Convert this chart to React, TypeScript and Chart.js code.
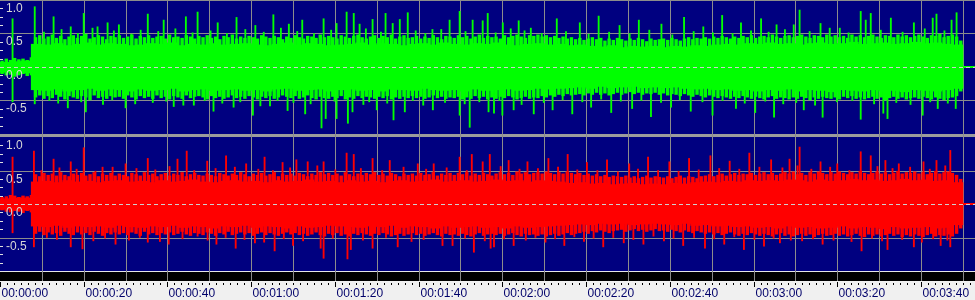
import React, { useEffect, useRef } from 'react';
import { Chart, registerables } from 'chart.js';

Chart.register(...registerables);

// ---- data: amplitudes in hundredths ----
// solid core of each channel, one value per 2.5 s bin (bin i starts at 2.5*i s)
const GREEN_CORE_TOP = [
  7, 8, 9,
  34, 33, 35, 32, 34, 36, 33, 35, 34, 32,
  33, 35, 34, 36, 32, 34, 33, 35, 33, 34,
  35, 33, 32, 34, 36, 33, 35, 34, 32, 33,
  34, 36, 33, 35, 34, 32, 34, 35, 33, 36,
  34, 33, 35, 34, 36, 33, 32, 34, 35, 33,
  34, 32, 33, 31, 30, 32, 29, 31, 30, 31,
  29, 31, 30, 32, 31, 33, 34, 33, 35, 34,
  36, 34, 35, 33, 35, 36, 34, 35, 37, 34,
  35, 36, 34, 35, 37, 35, 36, 34, 33,
  1,
];
const GREEN_CORE_BOTTOM = [
  -8, -9, -9,
  -34, -35, -33, -36, -34, -32, -35, -33, -34, -36,
  -33, -35, -34, -32, -36, -34, -33, -35, -34, -33,
  -35, -34, -36, -33, -32, -35, -34, -33, -36, -34,
  -33, -35, -34, -36, -33, -34, -35, -32, -34, -35,
  -34, -36, -33, -35, -34, -33, -35, -34, -32, -33,
  -32, -31, -30, -32, -29, -31, -30, -29, -31, -30,
  -31, -30, -32, -33, -32, -34, -33, -35, -34, -36,
  -34, -35, -33, -36, -34, -35, -37, -34, -35, -36,
  -34, -36, -35, -37, -34, -35, -36, -34, -32,
  -1,
];
const RED_CORE_TOP = [
  8, 9, 9,
  33, 34, 32, 35, 33, 34, 32, 34, 35, 33,
  34, 32, 35, 33, 34, 36, 33, 32, 34, 35,
  33, 34, 32, 35, 33, 34, 36, 33, 34, 32,
  35, 33, 34, 32, 34, 35, 33, 34, 36, 33,
  34, 35, 33, 34, 36, 34, 35, 33, 35, 34,
  33, 31, 32, 30, 31, 29, 30, 31, 29, 30,
  29, 31, 30, 32, 33, 32, 34, 33, 35, 34,
  35, 34, 36, 35, 33, 36, 34, 35, 37, 35,
  36, 34, 35, 37, 35, 36, 34, 35, 32,
  1,
];
const RED_CORE_BOTTOM = [
  -8, -9, -9,
  -33, -34, -32, -35, -33, -34, -33, -35, -32, -34,
  -35, -33, -34, -32, -35, -33, -34, -36, -33, -34,
  -32, -35, -33, -34, -36, -33, -35, -34, -32, -33,
  -34, -35, -33, -34, -32, -35, -33, -34, -36, -33,
  -35, -34, -33, -35, -34, -36, -33, -35, -34, -33,
  -32, -31, -30, -31, -29, -30, -29, -31, -30, -29,
  -30, -31, -29, -32, -31, -33, -32, -34, -33, -35,
  -34, -36, -33, -35, -34, -36, -35, -33, -36, -34,
  -35, -37, -34, -36, -35, -34, -36, -35, -31,
  -1,
];

// ragged fringe, one value per second (bin i starts at i s)
const GREEN_TOP = [
  9, 12, 10, 13, 11, 12, 10, 14,
  44, 47, 42, 45, 48, 43, 46, 41, 45, 47,
  43, 46, 49, 42, 44, 47, 45, 41, 46, 44,
  47, 43, 45, 48, 42, 46, 44, 47, 43, 45,
  46, 42, 48, 44, 45, 43, 47, 45, 42, 46,
  44, 47, 43, 45, 41, 46, 44, 48, 42, 45,
  43, 46, 44, 42, 47, 45, 43, 46, 44, 41,
  45, 43, 47, 44, 42, 46, 45, 43, 48, 44,
  46, 44, 42, 47, 45, 43, 46, 48, 44, 42,
  45, 47, 43, 46, 44, 48, 42, 45, 47, 43,
  44, 46, 42, 45, 43, 47, 44, 41, 46, 45,
  43, 47, 44, 46, 42, 45, 48, 43, 46, 44,
  45, 42, 47, 44, 46, 48, 45, 43, 47, 46,
  48, 45, 47, 44, 46, 43, 45, 42, 44, 41,
  43, 40, 42, 44, 41, 43, 39, 42, 40, 43,
  41, 39, 42, 40, 43, 41, 38, 42, 40, 41,
  42, 40, 43, 41, 39, 42, 44, 41, 43, 42,
  44, 42, 45, 43, 46, 44, 42, 45, 43, 46,
  44, 47, 43, 45, 46, 44, 48, 45, 43, 46,
  47, 44, 46, 48, 45, 43, 47, 46, 44, 48,
  45, 47, 44, 46, 43, 48, 45, 47, 44, 46,
  48, 45, 43, 47, 46, 44, 48, 45, 47, 44,
  46, 48, 45, 43, 47, 46, 49, 44, 46, 48,
  45, 39, 1, 1, 1,
];
const GREEN_BOTTOM = [
  -10, -12, -11, -14, -12, -10, -13, -12,
  -45, -42, -47, -43, -46, -41, -44, -48, -43, -45,
  -47, -43, -45, -49, -42, -46, -44, -47, -43, -45,
  -44, -47, -42, -45, -48, -43, -46, -44, -47, -42,
  -46, -44, -48, -43, -45, -47, -42, -46, -44, -43,
  -45, -48, -43, -46, -44, -47, -45, -42, -46, -44,
  -47, -43, -45, -48, -44, -46, -43, -47, -45, -42,
  -44, -46, -43, -47, -45, -42, -46, -48, -44, -46,
  -47, -44, -46, -43, -48, -45, -47, -43, -46, -44,
  -45, -47, -44, -46, -43, -48, -45, -47, -44, -46,
  -43, -46, -44, -47, -45, -42, -46, -44, -47, -45,
  -46, -44, -48, -45, -47, -43, -46, -44, -48, -45,
  -47, -44, -46, -43, -45, -48, -46, -44, -47, -45,
  -46, -43, -45, -42, -44, -41, -43, -40, -42, -41,
  -40, -42, -39, -41, -38, -41, -39, -42, -40, -38,
  -41, -39, -37, -40, -38, -41, -39, -40, -38, -41,
  -39, -42, -40, -41, -43, -40, -42, -44, -41, -43,
  -45, -42, -44, -46, -43, -45, -47, -44, -46, -43,
  -45, -47, -44, -46, -48, -45, -43, -47, -45, -46,
  -48, -45, -47, -44, -46, -49, -45, -47, -44, -46,
  -47, -45, -48, -44, -46, -43, -47, -45, -48, -46,
  -44, -47, -45, -49, -46, -44, -47, -45, -48, -46,
  -45, -47, -44, -46, -48, -45, -47, -49, -46, -45,
  -43, -36, -1, -1, -1,
];
const RED_TOP = [
  10, 11, 13, 12, 10, 12, 11, 13,
  44, 41, 46, 43, 45, 42, 47, 43, 41, 45,
  43, 46, 42, 44, 47, 41, 45, 43, 46, 42,
  45, 43, 41, 46, 44, 42, 47, 43, 45, 41,
  44, 46, 42, 45, 43, 47, 41, 44, 46, 43,
  42, 45, 43, 41, 46, 44, 42, 45, 43, 47,
  44, 41, 45, 43, 46, 42, 44, 47, 41, 45,
  43, 45, 42, 46, 44, 41, 45, 43, 47, 44,
  46, 43, 45, 42, 47, 44, 41, 45, 43, 46,
  44, 47, 43, 45, 42, 46, 44, 41, 45, 43,
  45, 42, 46, 43, 44, 47, 42, 45, 43, 46,
  43, 46, 44, 47, 42, 45, 43, 46, 44, 42,
  45, 47, 44, 46, 43, 48, 45, 47, 44, 46,
  47, 45, 48, 46, 44, 47, 45, 48, 46, 44,
  46, 43, 45, 42, 44, 41, 43, 40, 42, 41,
  40, 42, 39, 41, 38, 40, 42, 39, 41, 40,
  39, 41, 38, 40, 42, 39, 41, 40, 38, 41,
  42, 44, 41, 43, 45, 42, 44, 46, 43, 45,
  44, 46, 43, 45, 47, 44, 46, 43, 45, 47,
  45, 48, 44, 46, 43, 47, 45, 48, 46, 44,
  47, 45, 48, 46, 44, 47, 45, 49, 46, 44,
  46, 48, 45, 47, 44, 46, 49, 45, 47, 46,
  48, 45, 47, 44, 46, 49, 45, 47, 48, 46,
  43, 37, 1, 1, 1,
];
const RED_BOTTOM = [
  -9, -11, -12, -10, -11, -13, -10, -12,
  -44, -41, -46, -42, -45, -43, -47, -41, -44, -46,
  -42, -45, -43, -46, -41, -44, -47, -43, -45, -42,
  -45, -43, -46, -42, -44, -47, -41, -45, -43, -46,
  -43, -45, -42, -46, -44, -41, -45, -47, -43, -44,
  -46, -42, -44, -47, -43, -45, -41, -46, -44, -42,
  -45, -43, -47, -44, -42, -46, -43, -45, -47, -44,
  -42, -45, -43, -46, -44, -47, -45, -42, -46, -48,
  -44, -46, -43, -47, -45, -48, -44, -46, -43, -45,
  -47, -44, -46, -43, -45, -48, -46, -44, -47, -45,
  -43, -46, -44, -47, -45, -43, -46, -48, -44, -46,
  -45, -47, -44, -46, -48, -45, -43, -47, -45, -44,
  -46, -44, -47, -45, -43, -46, -48, -44, -46, -45,
  -47, -45, -48, -46, -44, -47, -45, -43, -46, -44,
  -43, -41, -44, -40, -42, -39, -41, -43, -40, -39,
  -38, -41, -39, -37, -40, -38, -41, -39, -37, -40,
  -39, -41, -38, -40, -42, -39, -41, -43, -40, -42,
  -44, -42, -45, -43, -46, -44, -42, -45, -47, -44,
  -46, -43, -45, -47, -44, -46, -48, -45, -43, -47,
  -45, -48, -46, -44, -47, -45, -49, -46, -44, -47,
  -46, -44, -47, -45, -48, -46, -44, -47, -49, -45,
  -47, -45, -48, -46, -44, -47, -45, -49, -46, -48,
  -45, -47, -49, -46, -44, -48, -46, -47, -45, -48,
  -44, -36, -1, -1, -1,
];

// isolated peaks: time (s) and amplitude
const GREEN_PEAK_T = [
  3, 8.3, 12.8, 16.9, 20, 23.3, 25.7, 28.4, 35.3, 39.1, 44.4, 47.2,
  52, 56.5, 61, 65.3, 69, 72.2,
  77.3, 80.4, 82.8, 84.5, 85.9, 89, 92.1, 93.8, 95.5, 97.4, 103.3, 107.4, 109.8, 112.9, 115.3, 116.5, 120.1, 123.9, 126.8,
  133, 138.5, 143, 148, 152.6, 158, 163.4, 168, 172.5, 177, 181.8, 185.5,
  189.6, 191, 196, 200.6, 205.6, 206.8, 208, 212.8, 218.3, 222.8, 223.7, 227.3, 228.5,
  10.5, 14.7, 18.6, 22.1, 27.2, 31.4, 33.6, 37.8, 41.9, 46, 50.3, 54.2, 58.6, 63, 67.1, 71,
  75, 79.1, 87.4, 91, 99.3, 101.6, 105.4, 111.2, 118.4, 122, 125.3, 129.4, 135.2, 140.6, 145.5, 150.4,
  155.1, 160.6, 165.7, 170.3, 175, 179.4, 183.6, 187.5, 193.4, 198.2, 202.7, 210.4, 215.6, 220.9, 225.6,
];
const GREEN_PEAK_V = [
  0.72, 0.9, 0.75, 0.6, 0.8, 0.6, 0.66, 0.63, 0.79, 0.7, 0.75, 0.82,
  0.66, 0.74, 0.62, 0.78, 0.64, 0.7,
  0.72, 0.65, 0.82, 0.8, 0.64, 0.71, 0.8, 0.65, 0.71, 0.81, 0.56, 0.7, 0.83, 0.7, 0.69, 0.8, 0.66, 0.69, 0.58,
  0.72, 0.66, 0.76, 0.62, 0.7, 0.64, 0.74, 0.6, 0.77, 0.66, 0.72, 0.63,
  0.63, 0.85, 0.65, 0.58, 0.83, 0.7, 0.8, 0.73, 0.66, 0.73, 0.79, 0.7, 0.81,
  0.52, 0.56, 0.5, 0.58, 0.54, 0.49, 0.55, 0.53, 0.57, 0.51, 0.54, 0.5, 0.56, 0.52, 0.58, 0.53,
  0.5, 0.55, 0.57, 0.52, 0.54, 0.5, 0.56, 0.53, 0.51, 0.57, 0.54, 0.5, 0.53, 0.49, 0.52, 0.5,
  0.55, 0.48, 0.53, 0.51, 0.5, 0.54, 0.52, 0.56, 0.53, 0.58, 0.51, 0.55, 0.52, 0.57, 0.54,
];
const GREEN_TROUGH_T = [
  3, 8.3, 16.2, 20.5, 30, 41.5, 46.3,
  51, 55.8, 60.4, 64.5, 68.7, 72.9,
  76.8, 77.8, 80.4, 83.1, 84.2, 90, 94, 96.7, 103.4, 109.8, 112.2, 116.7, 118, 120, 122.7, 127.5,
  132, 136.7, 141.2, 146, 151, 155.5, 160.3, 165, 170.2, 175.8, 180.4, 184.9,
  192, 196.5, 205.6, 211, 212, 220.4, 224, 228.3,
  11.8, 13.9, 19.4, 24.6, 26.8, 32.3, 36.5, 39.7, 43.8, 48.9, 53.1, 57.4, 62.2, 66.3, 70.1, 74.2,
  79.9, 86.8, 88.2, 92.5, 98.6, 101.1, 106.3, 111, 114.5, 119.3, 124.6, 129.9, 134.4, 139.1, 143.6, 148.3,
  153.2, 157.9, 162.4, 167.8, 172.6, 177.9, 182.8, 187.1, 190.2, 194.7, 199.9, 203.6, 208.8, 214.1, 217.5,
  222.2, 226.4,
];
const GREEN_TROUGH_V = [
  -0.52, -0.55, -0.61, -0.67, -0.61, -0.59, -0.57,
  -0.66, -0.6, -0.72, -0.58, -0.65, -0.7,
  -0.91, -0.77, -0.77, -0.84, -0.67, -0.64, -0.79, -0.67, -0.64, -0.72, -0.9, -0.67, -0.69, -0.72, -0.64, -0.7,
  -0.64, -0.7, -0.6, -0.68, -0.62, -0.74, -0.6, -0.66, -0.72, -0.62, -0.68, -0.75,
  -0.64, -0.75, -0.78, -0.69, -0.77, -0.72, -0.62, -0.62,
  -0.5, -0.54, -0.52, -0.56, -0.49, -0.55, -0.53, -0.51, -0.57, -0.5, -0.54, -0.52, -0.58, -0.5, -0.53, -0.55,
  -0.51, -0.56, -0.52, -0.54, -0.5, -0.57, -0.53, -0.55, -0.52, -0.5, -0.56, -0.53, -0.49, -0.52, -0.48, -0.51,
  -0.5, -0.53, -0.49, -0.52, -0.5, -0.54, -0.51, -0.55, -0.53, -0.57, -0.52, -0.5, -0.55, -0.53, -0.56,
  -0.52, -0.54,
];
const RED_PEAK_T = [
  3, 8.1, 12.8, 16.9, 20, 24.5, 30, 35.3, 42.4, 44.6,
  49.5, 54, 58.8, 63.2, 67.5, 70.8,
  73.5, 77.3, 82.8, 84.5, 89, 93.1, 99.8, 103.6, 109.8, 112.7, 115.3, 117, 121.5, 126,
  131, 135.6, 140.2, 145, 150.3, 154.8, 159.9, 164.6, 169.7, 174.3, 179, 184.2,
  188.6, 191, 196, 200, 205.6, 208, 211.5, 214.7, 220.6, 223.7, 227,
  9.9, 14.2, 18.3, 22.8, 26.9, 32.6, 37.1, 40.5, 46.4, 51.5, 56.1, 61.7, 65.2, 69.3, 75.8, 80.1,
  86.2, 91.3, 96.4, 101.8, 106.7, 111.5, 119.6, 124.1, 128.5, 133.3, 137.9, 142.7, 147.6, 152.4, 157.2, 162.1,
  166.9, 171.8, 176.6, 181.4, 186.9, 190.5, 193.8, 198.3, 202.9, 209.6, 213.2, 217.4, 222.1, 225.8,
];
const RED_PEAK_V = [
  0.7, 0.79, 0.67, 0.63, 0.84, 0.55, 0.6, 0.68, 0.67, 0.79,
  0.64, 0.72, 0.6, 0.7, 0.62, 0.66,
  0.63, 0.63, 0.76, 0.74, 0.68, 0.65, 0.6, 0.6, 0.7, 0.74, 0.63, 0.74, 0.65, 0.63,
  0.68, 0.74, 0.62, 0.66, 0.6, 0.7, 0.63, 0.68, 0.72, 0.64, 0.76, 0.66,
  0.67, 0.85, 0.63, 0.6, 0.78, 0.72, 0.65, 0.6, 0.63, 0.65, 0.8,
  0.5, 0.54, 0.52, 0.49, 0.55, 0.53, 0.51, 0.56, 0.5, 0.53, 0.55, 0.52, 0.5, 0.54, 0.57, 0.51,
  0.53, 0.5, 0.55, 0.52, 0.54, 0.5, 0.56, 0.52, 0.53, 0.55, 0.51, 0.5, 0.48, 0.52, 0.5, 0.49,
  0.51, 0.53, 0.52, 0.55, 0.54, 0.57, 0.52, 0.55, 0.5, 0.56, 0.53, 0.55, 0.52, 0.57,
];
const RED_TROUGH_T = [
  3, 8.1, 16.9, 19.7, 27.6, 35.3, 40.3, 47.2,
  51.7, 56.3, 60.9, 65.6, 70,
  76.6, 77.3, 83, 83.8, 89, 95, 105.7, 108.1, 113.2, 117.2, 118, 122.7, 130.3,
  134.8, 139.5, 144.1, 149, 153.7, 158.6, 163.2, 168.4, 173, 177.7, 182.5, 186.3,
  188.9, 196.5, 205.8, 212, 218.3, 224.7, 227,
  11.2, 13.6, 22.3, 25.1, 30.8, 33.4, 38.2, 43.6, 49.6, 53.9, 58.4, 63.1, 67.8, 72.4, 79.5, 86.7,
  92.2, 98.3, 101.2, 111.1, 115.8, 120.4, 125.6, 127.9, 132.6, 137.2, 141.8, 146.5, 151.3, 156.1, 160.9, 165.8,
  170.6, 175.4, 180.2, 184.8, 191.6, 194.2, 199.1, 203.4, 208.3, 210.7, 215.5, 220.2, 222.9, 226.3,
];
const RED_TROUGH_V = [
  -0.43, -0.64, -0.64, -0.67, -0.6, -0.57, -0.6, -0.48,
  -0.6, -0.66, -0.58, -0.7, -0.62,
  -0.66, -0.81, -0.82, -0.68, -0.66, -0.64, -0.62, -0.62, -0.72, -0.66, -0.64, -0.62, -0.57,
  -0.62, -0.56, -0.64, -0.58, -0.6, -0.55, -0.62, -0.66, -0.6, -0.68, -0.63, -0.58,
  -0.54, -0.6, -0.7, -0.68, -0.64, -0.62, -0.64,
  -0.5, -0.53, -0.55, -0.51, -0.54, -0.5, -0.56, -0.52, -0.54, -0.5, -0.53, -0.57, -0.52, -0.55, -0.51, -0.54,
  -0.5, -0.56, -0.53, -0.51, -0.55, -0.52, -0.54, -0.5, -0.52, -0.49, -0.51, -0.5, -0.53, -0.48, -0.51, -0.5,
  -0.52, -0.49, -0.53, -0.51, -0.55, -0.52, -0.54, -0.56, -0.51, -0.55, -0.53, -0.57, -0.52, -0.54,
];

// axis tick values and labels
const TIME_TICKS = [0, 20, 40, 60, 80, 100, 120, 140, 160, 180, 200, 220];
const TIME_LABELS = [
  '00:00:00', '00:00:20', '00:00:40', '00:01:00', '00:01:20', '00:01:40',
  '00:02:00', '00:02:20', '00:02:40', '00:03:00', '00:03:20', '00:03:40',
];
const AMP_TICKS = [1, 0.5, 0, -0.5];
const AMP_LABELS = ['1.0', '0.5', '0.0', '-0.5'];

// ---- styling ----
const W = 975;
const H = 300;
const NAVY = '#000080';
const GREEN = '#00ff00';
const RED = '#ff0000';
const GRID = '#8c8c8c';
const SEP = '#9c9c9c';
const LABEL = '#d6d6d6';
const AXIS_BG = '#f0f0f0';
const AXIS_TEXT = '#00006a';
const FONT = '12px "Liberation Sans", Arial, sans-serif';

const binData = (top: number[], bottom: number[], step: number) =>
  top.map((v, i) => ({ x: (i + 0.5) * step, y: [bottom[i] / 100, v / 100] }));
const spikeData = (ts: number[], vs: number[]) =>
  ts
    .map((t, i) => ({ t, v: vs[i] }))
    .filter((p) => typeof p.v === 'number')
    .map((p) => ({ x: p.t, y: p.v >= 0 ? [0, p.v] : [p.v, 0] }));

const framePlugin = {
  id: 'waveFrame',
  beforeDatasetsDraw(chart: any) {
    const { ctx, scales } = chart;
    const xs = scales.x;
    const yG = scales.yG;
    const yR = scales.yR;
    const gTop = yG.getPixelForValue(1);
    const gBot = yG.getPixelForValue(-1);
    const rTop = yR.getPixelForValue(1);
    const rBot = yR.getPixelForValue(-1);
    ctx.save();
    ctx.fillStyle = AXIS_BG;
    ctx.fillRect(0, 0, W, H);
    ctx.fillStyle = NAVY;
    ctx.fillRect(0, gTop, W, gBot - gTop);
    ctx.fillRect(0, rTop, W, rBot - rTop);
    ctx.fillStyle = SEP;
    ctx.fillRect(0, gBot, W, rTop - gBot);
    // white rule + black strip under the panels
    ctx.fillStyle = '#e6e6e6';
    ctx.fillRect(0, rBot, W, 1);
    ctx.fillStyle = '#000000';
    ctx.fillRect(0, rBot + 1, W, 9);
    // horizontal grid
    ctx.fillStyle = GRID;
    ctx.fillRect(0, Math.round(gTop), W, 1);
    for (const v of [0.5, -0.5]) {
      ctx.fillRect(0, Math.round(yG.getPixelForValue(v)), W, 1);
      ctx.fillRect(0, Math.round(yR.getPixelForValue(v)), W, 1);
    }
    // vertical grid every 10 s
    for (let t = 10; t <= 230; t += 10) {
      const px = Math.round(xs.getPixelForValue(t));
      ctx.fillRect(px, gTop, 1, rBot + 10 - gTop);
    }
    ctx.restore();
  },
  afterDatasetsDraw(chart: any) {
    const { ctx, scales } = chart;
    const xs = scales.x;
    const yG = scales.yG;
    const yR = scales.yR;
    const rBot = yR.getPixelForValue(-1);
    ctx.save();
    // dashed zero lines
    ctx.strokeStyle = '#cfcfcf';
    ctx.lineWidth = 1;
    ctx.setLineDash([4, 3]);
    for (const s of [yG, yR]) {
      const py = Math.round(s.getPixelForValue(0)) + 0.5;
      ctx.beginPath();
      ctx.moveTo(0, py);
      ctx.lineTo(W, py);
      ctx.stroke();
    }
    ctx.setLineDash([]);
    // small left ticks
    ctx.fillStyle = '#e0e0e0';
    for (const s of [yG, yR]) {
      for (let k = -8; k <= 8; k++) {
        if (k % 4 === 0) continue;
        const py = Math.round(s.getPixelForValue(k / 8));
        ctx.fillRect(0, py, 3, 1);
      }
    }
    // amplitude labels
    ctx.font = FONT;
    ctx.fillStyle = LABEL;
    ctx.textAlign = 'left';
    ctx.textBaseline = 'alphabetic';
    for (const s of [yG, yR]) {
      AMP_TICKS.forEach((v, i) => {
        ctx.fillText(AMP_LABELS[i], 6, s.getPixelForValue(v) + 12);
      });
    }
    // time axis ticks
    ctx.fillStyle = '#000000';
    for (let k = 0; (k * 20) / 12 <= 233; k++) {
      const t = (k * 20) / 12;
      const px = Math.round(xs.getPixelForValue(t));
      if (k % 12 === 0) ctx.fillRect(px, rBot + 11, 1, 5);
      else ctx.fillRect(px, rBot + 12, 1, 2);
    }
    // time labels
    ctx.fillStyle = AXIS_TEXT;
    TIME_TICKS.forEach((t, i) => {
      const px = Math.round(xs.getPixelForValue(t));
      ctx.fillText(TIME_LABELS[i], px + 1.5, rBot + 26);
    });
    ctx.restore();
  },
};

export default function App() {
  const ref = useRef<HTMLCanvasElement | null>(null);
  useEffect(() => {
    document.body.style.margin = '0';
    const canvas = ref.current;
    if (!canvas) return;
    const common = { grouped: false, borderWidth: 0, borderSkipped: false as const };
    const chart = new Chart(canvas, {
      type: 'bar',
      data: {
        datasets: [
          { ...common, label: 'L fringe', data: binData(GREEN_TOP, GREEN_BOTTOM, 1) as any, yAxisID: 'yG', backgroundColor: GREEN, barThickness: 2.8 },
          { ...common, label: 'L core', data: binData(GREEN_CORE_TOP, GREEN_CORE_BOTTOM, 2.5) as any, yAxisID: 'yG', backgroundColor: GREEN, barThickness: 10.8 },
          { ...common, label: 'L peaks', data: spikeData(GREEN_PEAK_T, GREEN_PEAK_V) as any, yAxisID: 'yG', backgroundColor: GREEN, barThickness: 1.2 },
          { ...common, label: 'L troughs', data: spikeData(GREEN_TROUGH_T, GREEN_TROUGH_V) as any, yAxisID: 'yG', backgroundColor: GREEN, barThickness: 1.2 },
          { ...common, label: 'R fringe', data: binData(RED_TOP, RED_BOTTOM, 1) as any, yAxisID: 'yR', backgroundColor: RED, barThickness: 2.8 },
          { ...common, label: 'R core', data: binData(RED_CORE_TOP, RED_CORE_BOTTOM, 2.5) as any, yAxisID: 'yR', backgroundColor: RED, barThickness: 10.8 },
          { ...common, label: 'R peaks', data: spikeData(RED_PEAK_T, RED_PEAK_V) as any, yAxisID: 'yR', backgroundColor: RED, barThickness: 1.2 },
          { ...common, label: 'R troughs', data: spikeData(RED_TROUGH_T, RED_TROUGH_V) as any, yAxisID: 'yR', backgroundColor: RED, barThickness: 1.2 },
        ],
      },
      options: {
        animation: false,
        responsive: false,
        events: [],
        layout: { padding: { left: 0, right: 0, top: 0, bottom: 29 } },
        plugins: { legend: { display: false }, tooltip: { enabled: false } },
        scales: {
          x: { type: 'linear', min: 0, max: 232.9, offset: false, display: false },
          yG: { type: 'linear', min: -3.045, max: 1, display: false },
          yR: { type: 'linear', min: -1, max: 3.045, display: false },
        },
      },
      plugins: [framePlugin],
    });
    return () => chart.destroy();
  }, []);
  return (
    <div style={{ position: 'absolute', left: 0, top: 0, width: W, height: H }}>
      <canvas ref={ref} width={W} height={H} style={{ display: 'block', width: W, height: H }} />
    </div>
  );
}
